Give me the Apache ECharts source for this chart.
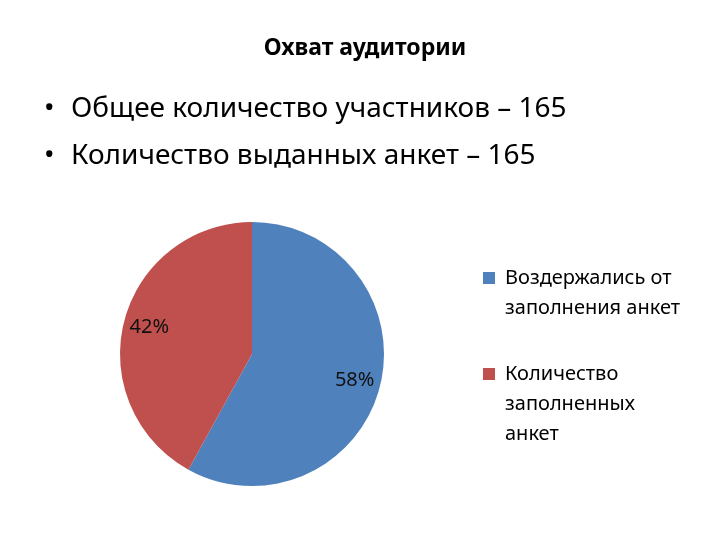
<!DOCTYPE html>
<html>
<head>
<meta charset="utf-8">
<script src="https://cdn.jsdelivr.net/npm/echarts@6/dist/echarts.min.js"></script>
<style>
    html, body { margin: 0; padding: 0; background: #fff; }
    #chart { width: 720px; height: 540px; }
</style>
</head>
<body>
<div id="chart"></div>
<script>
    var chartTitle = 'Охват аудитории';
    var bullets = ['Общее количество участников – 165', 'Количество выданных анкет – 165'];
    var categories = ['Воздержались от\nзаполнения анкет', 'Количество\nзаполненных\nанкет'];
    var shares = [58, 42];
    var colors = ['#4F81BD', '#C0504D'];

    var font = '"Noto Sans", "DejaVu Sans", sans-serif';

    var pieData = [];
    var labelData = [];
    for (var i = 0; i < categories.length; i++) {
        pieData.push({name: categories[i], value: shares[i], itemStyle: {color: colors[i]}});
        labelData.push({name: 'lbl' + i, value: shares[i]});
    }

    var option = {
        backgroundColor: '#fff',
        animation: false,
        title: [{
            text: chartTitle,
            left: 360,
            top: 32,
            textAlign: 'center',
            textStyle: {fontFamily: font, fontSize: 23, fontWeight: 'bold', color: '#000'}
        }, {
            text: bullets.map(function (b) { return '{b|•}' + b; }).join('\n'),
            left: 39,
            top: 81,
            textStyle: {
                fontFamily: font, fontSize: 28, fontWeight: 'normal', color: '#000', lineHeight: 47,
                rich: {b: {width: 27, fontSize: 28, fontFamily: font, lineHeight: 47}}
            }
        }],
        legend: {
            orient: 'vertical',
            left: 478,
            top: 228,
            // square plus an empty move so the text starts a bit further right
            icon: 'path://M0,0H12V12H0Z M17,12',
            itemWidth: 17,
            itemHeight: 12,
            itemGap: -24,
            selectedMode: false,
            data: categories,
            // text block is centred on the icon: blank lines on top put the icon on the first line
            formatter: function (name) {
                var n = name.split('\n').length;
                return new Array(n).join('\n') + name;
            },
            textStyle: {fontFamily: font, fontSize: 20, color: '#000', lineHeight: 30}
        },
        series: [{
            type: 'pie',
            center: [252, 354],
            radius: 132,
            startAngle: 90,
            clockwise: true,
            label: {show: false},
            labelLine: {show: false},
            itemStyle: {borderWidth: 0},
            emphasis: {disabled: true},
            data: pieData
        }, {
            // invisible twin, only used to place the percent labels further out
            type: 'pie',
            center: [252, 354],
            radius: [0, 206],
            startAngle: 90,
            clockwise: true,
            silent: true,
            itemStyle: {color: 'rgba(0,0,0,0)', borderWidth: 0},
            label: {
                show: true,
                position: 'inside',
                formatter: '{d}%',
                fontFamily: font,
                fontSize: 20,
                color: '#111'
            },
            labelLine: {show: false},
            emphasis: {disabled: true},
            data: labelData
        }]
    };

    var chart = echarts.init(document.getElementById('chart'));
    chart.setOption(option);
</script>
</body>
</html>
